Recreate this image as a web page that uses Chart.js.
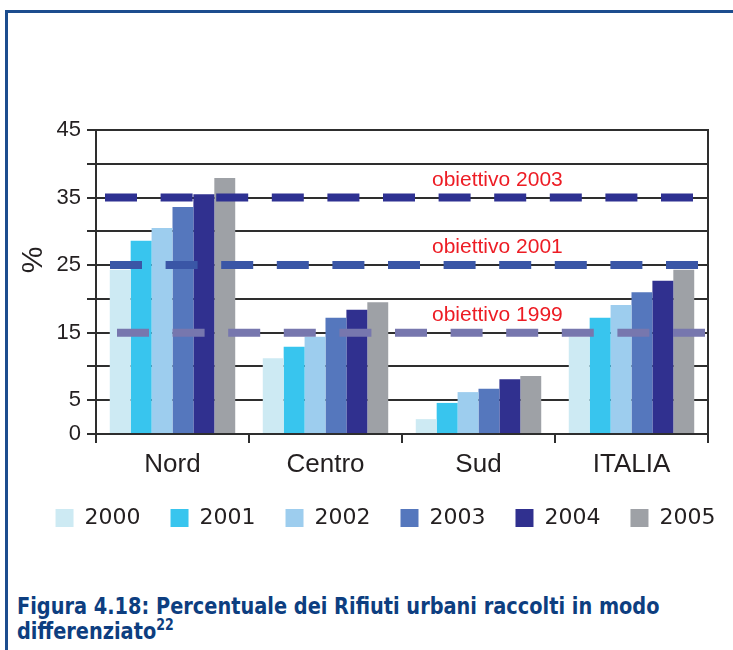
<!DOCTYPE html>
<html><head><meta charset="utf-8">
<script src="https://cdn.jsdelivr.net/npm/chart.js@4"></script>
<style>
html,body{margin:0;padding:0;width:733px;height:650px;overflow:hidden;background:#fff;}
#topline{position:absolute;left:5px;top:10px;width:728px;height:3px;background:#1c4d8e;}
#leftline{position:absolute;left:5px;top:10px;width:3px;height:640px;background:#1c4d8e;}
#wrap{position:absolute;left:19px;top:0;width:733px;height:560px;}
#caption{position:absolute;left:17px;top:594px;font-family:"Liberation Sans Narrow","DejaVu Sans Condensed",sans-serif;font-stretch:condensed;font-weight:bold;font-size:23px;line-height:25px;color:#0d3e80;white-space:nowrap;transform:scaleX(0.935);transform-origin:0 0;}
#caption sup{font-size:15px;line-height:0;vertical-align:9px;}
</style></head><body>
<div id="topline"></div>
<div id="leftline"></div>
<div id="wrap"><canvas id="c"></canvas></div>
<div id="caption">Figura 4.18: Percentuale dei Rifiuti urbani raccolti in modo<br>differenziato<sup>22</sup></div>
<script>
const categories = ['Nord', 'Centro', 'Sud', 'ITALIA'];
const years = ['2000', '2001', '2002', '2003', '2004', '2005'];
const v2000 = [24.3, 11.2, 2.2, 14.4];
const v2001 = [28.6, 12.9, 4.6, 17.2];
const v2002 = [30.5, 14.4, 6.2, 19.1];
const v2003 = [33.6, 17.2, 6.7, 21.0];
const v2004 = [35.5, 18.4, 8.1, 22.7];
const v2005 = [37.9, 19.5, 8.6, 24.3];
const yTickLabels = [0, 5, 15, 25, 35, 45];
const targetValues = [35, 25, 15];
const targetLabels = ['obiettivo 2003', 'obiettivo 2001', 'obiettivo 1999'];

// styles
const barColors = ['#cdeaf3', '#38c5ee', '#9dcdee', '#5577bd', '#30308f', '#9ea1a6'];
const targetColors = ['#2e3192', '#3a56a6', '#7777ae'];
const targetStartOffsets = [9, 14, 21];
const seriesValues = [v2000, v2001, v2002, v2003, v2004, v2005];
const AX = '#2e2e2e';
const TXT = '#231f20';
const ARIAL = '"Liberation Sans", Arial, sans-serif';

const targetPlugin = {
  id: 'targets',
  afterDatasetsDraw(chart) {
    const {ctx, chartArea: a, scales: {y}} = chart;
    ctx.save();
    targetValues.forEach((v, i) => {
      const py = y.getPixelForValue(v);
      ctx.strokeStyle = targetColors[i];
      ctx.lineWidth = 8;
      ctx.setLineDash([32, 23.6]);
      ctx.beginPath();
      ctx.moveTo(a.left + targetStartOffsets[i], py);
      ctx.lineTo(a.right, py);
      ctx.stroke();
      ctx.setLineDash([]);
      ctx.fillStyle = '#ed1c24';
      ctx.font = '21px ' + ARIAL;
      ctx.textAlign = 'left';
      ctx.textBaseline = 'alphabetic';
      ctx.fillText(targetLabels[i], a.left + 336, py - 12);
    });
    ctx.fillStyle = TXT;
    ctx.font = '30px ' + ARIAL;
    ctx.translate(a.left - 62, (a.top + a.bottom) / 2 - 22);
    ctx.rotate(-Math.PI / 2);
    ctx.textAlign = 'center';
    ctx.textBaseline = 'middle';
    ctx.fillText('%', 0, 0);
    ctx.restore();
  }
};

new Chart(document.getElementById('c'), {
  type: 'bar',
  data: {
    labels: categories,
    datasets: years.map((yr, i) => ({
      label: yr,
      data: seriesValues[i],
      backgroundColor: barColors[i],
      borderWidth: 0,
      barPercentage: 1,
      categoryPercentage: 0.82
    }))
  },
  options: {
    responsive: true,
    maintainAspectRatio: false,
    animation: false,
    layout: {padding: {top: 130, left: 0, right: 0, bottom: 21}},
    plugins: {
      legend: {
        position: 'bottom',
        labels: {boxWidth: 18, boxHeight: 18, padding: 30, color: TXT,
          font: {family: '"DejaVu Sans"', size: 22}}
      },
      tooltip: {enabled: false}
    },
    scales: {
      x: {
        grid: {offset: true, drawOnChartArea: false, drawTicks: true, tickLength: 9, color: AX, lineWidth: 2},
        border: {display: true, color: AX, width: 2},
        ticks: {color: TXT, font: {family: ARIAL, size: 26}, padding: 6},
        afterFit(s) { s.height = 43; }
      },
      y: {
        min: 0, max: 45,
        ticks: {stepSize: 5, autoSkip: false, padding: 6, color: TXT,
          font: {family: ARIAL, size: 22},
          callback: (v) => yTickLabels.includes(v) ? String(v) : ''},
        grid: {color: AX, lineWidth: 2, tickLength: 9},
        border: {display: true, color: AX, width: 2},
        afterFit(s) { s.width = 77; }
      },
      yR: {
        position: 'right', min: 0, max: 45,
        ticks: {display: false},
        grid: {display: false},
        border: {display: true, color: AX, width: 2},
        afterFit(s) { s.width = 44; }
      }
    }
  },
  plugins: [targetPlugin]
});
</script>
</body></html>
